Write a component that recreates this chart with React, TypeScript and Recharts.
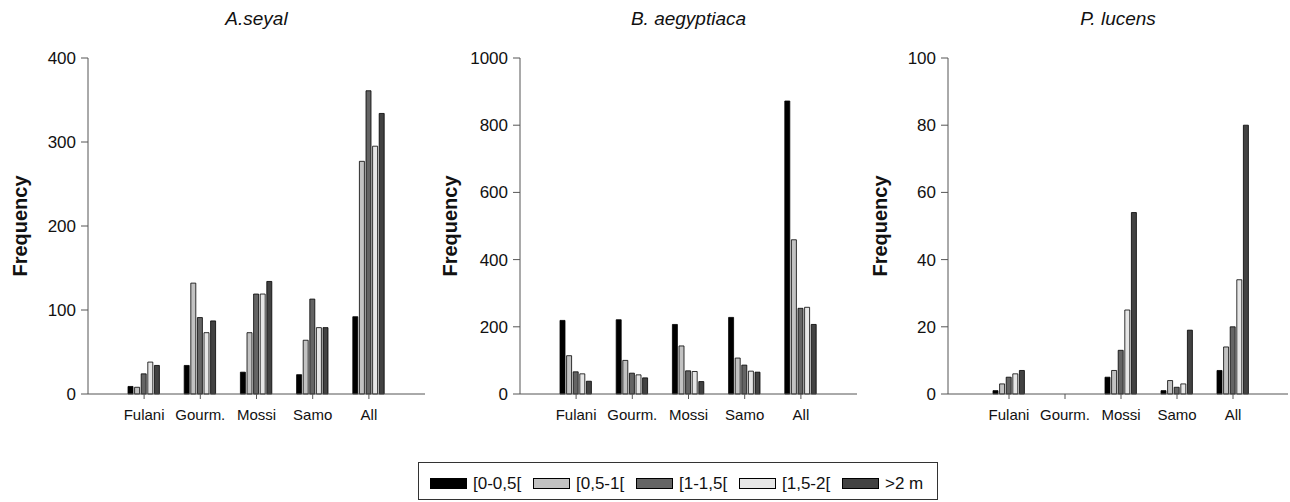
import React from 'react';
import { BarChart, Bar, XAxis, YAxis } from 'recharts';

const categories = ['Fulani', 'Gourm.', 'Mossi', 'Samo', 'All'];
const classLabels = ['[0-0,5[', '[0,5-1[', '[1-1,5[', '[1,5-2[', '>2 m'];
const classColors = ['#000000', '#c2c2c2', '#646464', '#e6e6e6', '#424242'];

// A. seyal
const seyal_0_05 = [9, 34, 26, 23, 92];
const seyal_05_1 = [8, 132, 73, 64, 277];
const seyal_1_15 = [24, 91, 119, 113, 361];
const seyal_15_2 = [38, 73, 119, 79, 295];
const seyal_gt2 = [34, 87, 134, 79, 334];
const seyalTicks = [0, 100, 200, 300, 400];

// B. aegyptiaca
const aegyp_0_05 = [219, 221, 207, 228, 872];
const aegyp_05_1 = [114, 100, 143, 107, 459];
const aegyp_1_15 = [66, 62, 69, 86, 255];
const aegyp_15_2 = [60, 57, 67, 68, 258];
const aegyp_gt2 = [38, 48, 37, 65, 207];
const aegypTicks = [0, 200, 400, 600, 800, 1000];

// P. lucens
const lucens_0_05 = [1, 0, 5, 1, 7];
const lucens_05_1 = [3, 0, 7, 4, 14];
const lucens_1_15 = [5, 0, 13, 2, 20];
const lucens_15_2 = [6, 0, 25, 3, 34];
const lucens_gt2 = [7, 0, 54, 19, 80];
const lucensTicks = [0, 20, 40, 60, 80, 100];

const FONT = '"Liberation Sans", Arial, sans-serif';
const AXIS = '#555555';

function buildRows(series: number[][]) {
  return categories.map((cat, i) => {
    const row: Record<string, string | number> = { cat };
    series.forEach((s, k) => {
      row['s' + k] = s[i];
    });
    return row;
  });
}

type PanelProps = {
  left: number;
  width: number;
  yWidth: number;
  marginRight: number;
  padLeft: number;
  padRight: number;
  title: string;
  series: number[][];
  ticks: number[];
};

const CHART_H = 440;
const PLOT_TOP = 58;
const PLOT_BOTTOM = 394;

function Panel({ left, width, yWidth, marginRight, padLeft, padRight, title, series, ticks }: PanelProps) {
  const data = buildRows(series);
  const max = ticks[ticks.length - 1];
  const plotLeft = left + yWidth;
  const plotRight = left + width - marginRight;
  const cx = (plotLeft + plotRight) / 2;
  return (
    <>
      <div
        style={{
          position: 'absolute',
          left: cx - 100,
          width: 200,
          top: 9,
          textAlign: 'center',
          fontFamily: FONT,
          fontStyle: 'italic',
          fontSize: 19,
          lineHeight: '19px',
          color: '#111',
        }}
      >
        {title}
      </div>
      <div
        style={{
          position: 'absolute',
          left: left + 20,
          top: (PLOT_TOP + PLOT_BOTTOM) / 2,
          transform: 'translate(-50%, -50%) rotate(-90deg)',
          fontFamily: FONT,
          fontWeight: 'bold',
          fontSize: 20,
          lineHeight: '20px',
          whiteSpace: 'nowrap',
          color: '#111',
        }}
      >
        Frequency
      </div>
      <div style={{ position: 'absolute', left, top: 0 }}>
        <BarChart
          width={width}
          height={CHART_H}
          data={data}
          margin={{ top: PLOT_TOP, right: marginRight, bottom: 0, left: 0 }}
          barGap={1.6}
        >
          <XAxis
            dataKey="cat"
            interval={0}
            height={CHART_H - PLOT_BOTTOM}
            padding={{ left: padLeft, right: padRight }}
            tickSize={5}
            tickMargin={10}
            axisLine={{ stroke: AXIS }}
            tickLine={{ stroke: AXIS }}
            tick={{ fontSize: 15, fill: '#111', fontFamily: FONT }}
          />
          <XAxis
            xAxisId="top"
            orientation="top"
            dataKey="cat"
            height={0}
            tick={false}
            tickLine={false}
            axisLine={{ stroke: AXIS }}
          />
          <YAxis
            width={yWidth}
            domain={[0, max]}
            ticks={ticks}
            interval={0}
            tickSize={7}
            tickMargin={5}
            axisLine={{ stroke: AXIS }}
            tickLine={{ stroke: AXIS }}
            tick={{ fontSize: 17, fill: '#111', fontFamily: FONT }}
          />
          <YAxis
            yAxisId="right"
            orientation="right"
            width={0}
            domain={[0, 1]}
            tick={false}
            tickLine={false}
            axisLine={{ stroke: AXIS }}
          />
          {classLabels.map((label, k) => (
            <Bar
              key={label}
              name={label}
              dataKey={'s' + k}
              fill={classColors[k]}
              stroke="#000"
              strokeWidth={0.8}
              barSize={5}
              isAnimationActive={false}
            />
          ))}
        </BarChart>
      </div>
    </>
  );
}

function Legend() {
  return (
    <div
      style={{
        position: 'absolute',
        left: 418,
        top: 462,
        width: 520,
        height: 38,
        border: '1px solid #333',
        boxSizing: 'border-box',
      }}
    >
      <div
        style={{
          position: 'absolute',
          left: 11,
          top: 8,
          height: 25,
          display: 'flex',
          alignItems: 'center',
        }}
      >
        {classLabels.map((label, k) => (
          <div key={label} style={{ display: 'flex', alignItems: 'center', width: k < 4 ? 103 : 'auto' }}>
            <div
              style={{
                width: 37,
                height: 11,
                background: classColors[k],
                border: '1px solid #000',
                boxSizing: 'border-box',
                marginRight: 6,
              }}
            />
            <span style={{ fontFamily: FONT, fontSize: 17, color: '#111', whiteSpace: 'nowrap' }}>{label}</span>
          </div>
        ))}
      </div>
    </div>
  );
}

export default function App() {
  return (
    <div style={{ position: 'absolute', left: 0, top: 0, width: 1290, height: 502, background: '#fff', overflow: 'hidden' }}>
      <Panel
        left={0}
        width={440}
        yWidth={88}
        marginRight={15}
        padLeft={28}
        padRight={28}
        title="A.seyal"
        series={[seyal_0_05, seyal_05_1, seyal_1_15, seyal_15_2, seyal_gt2]}
        ticks={seyalTicks}
      />
      <Panel
        left={430}
        width={440}
        yWidth={90}
        marginRight={13}
        padLeft={28}
        padRight={28}
        title="B. aegyptiaca"
        series={[aegyp_0_05, aegyp_05_1, aegyp_1_15, aegyp_15_2, aegyp_gt2]}
        ticks={aegypTicks}
      />
      <Panel
        left={860}
        width={430}
        yWidth={88}
        marginRight={2}
        padLeft={33}
        padRight={27}
        title="P. lucens"
        series={[lucens_0_05, lucens_05_1, lucens_1_15, lucens_15_2, lucens_gt2]}
        ticks={lucensTicks}
      />
      <Legend />
    </div>
  );
}
